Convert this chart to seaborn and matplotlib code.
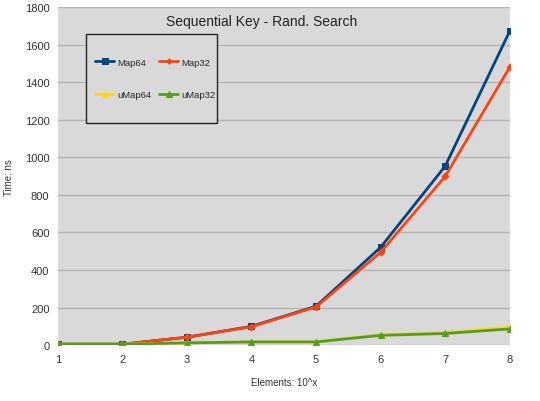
import matplotlib.pyplot as plt
import seaborn as sns
import pandas as pd
from matplotlib.patches import Rectangle

# elements exponent (10^x)
exponents = [1, 2, 3, 4, 5, 6, 7, 8]

map64 = [5, 5, 42, 100, 207, 521, 953, 1672]
map32 = [5, 5, 42, 98, 203, 494, 898, 1480]
umap64 = [5, 5, 12, 17, 17, 55, 66, 96]
umap32 = [5, 5, 12, 17, 17, 52, 62, 86]

series_names = ["Map64", "Map32", "uMap64", "uMap32"]
colors = ["#004586", "#ff420e", "#ffd320", "#579d1c"]
markers = ["s", "D", "^", "^"]
marker_sizes = [5, 3.5, 5, 5]

frames = []
for name, vals in zip(series_names, [map64, map32, umap64, umap32]):
    frames.append(pd.DataFrame({"x": exponents, "time": vals, "series": name}))
df = pd.concat(frames, ignore_index=True)

sns.set_style("white")
plt.rcParams['font.family'] = ['Liberation Sans', 'DejaVu Sans']

fig = plt.figure(figsize=(5.4, 4.02), dpi=100)
ax = fig.add_axes([0.107, 0.139, 0.837, 0.841])
ax.set_facecolor("#d9d9d9")

# yellow under the green one like the original
draw_order = ["uMap64", "Map32", "Map64", "uMap32"]
for name in draw_order:
    i = series_names.index(name)
    sns.lineplot(data=df[df["series"] == name], x="x", y="time", ax=ax,
                 color=colors[i], marker=markers[i], markersize=marker_sizes[i],
                 markeredgecolor=colors[i], linewidth=2, label=name, zorder=3 + i)

ax.set_xlim(1, 8)
ax.set_ylim(0, 1800)
ax.set_xticks(exponents)
ax.set_yticks(range(0, 1801, 200))
ax.yaxis.grid(True, color="#b3b3b3", linewidth=1)
ax.set_axisbelow(True)
for s in ax.spines.values():
    s.set_visible(False)
ax.tick_params(axis="both", labelsize=8, colors="#333333", length=3, color="#b3b3b3")
ax.tick_params(axis="y", length=0, pad=6)
ax.set_xlabel("Elements: 10^x", fontsize=7, color="#333333", labelpad=9)
ax.set_ylabel("Time: ns", fontsize=7, color="#333333", labelpad=8)

fig.text(0.485, 0.945, "Sequential Key - Rand. Search", ha="center", va="center",
         fontsize=10, color="#222222")

# legend box
box = Rectangle((86 / 540, 1 - 124 / 402), 131 / 540, 89 / 402, transform=fig.transFigure,
                facecolor="#d9d9d9", edgecolor="#222222", linewidth=1, zorder=2.5)
ax.add_patch(box)

handles, labels = ax.get_legend_handles_labels()
order = [labels.index(n) for n in ["Map64", "uMap64", "Map32", "uMap32"]]
leg = ax.legend([handles[k] for k in order], [labels[k] for k in order],
                ncol=2, loc="center", bbox_to_anchor=(0.288, 0.802),
                bbox_transform=fig.transFigure,
                fontsize=6.8, frameon=False, labelspacing=2.5, borderpad=0,
                handlelength=2.0, handletextpad=0.35, columnspacing=0.8,
                markerscale=0.8)
leg.set_zorder(10)

fig.savefig("out.png", dpi=100)
